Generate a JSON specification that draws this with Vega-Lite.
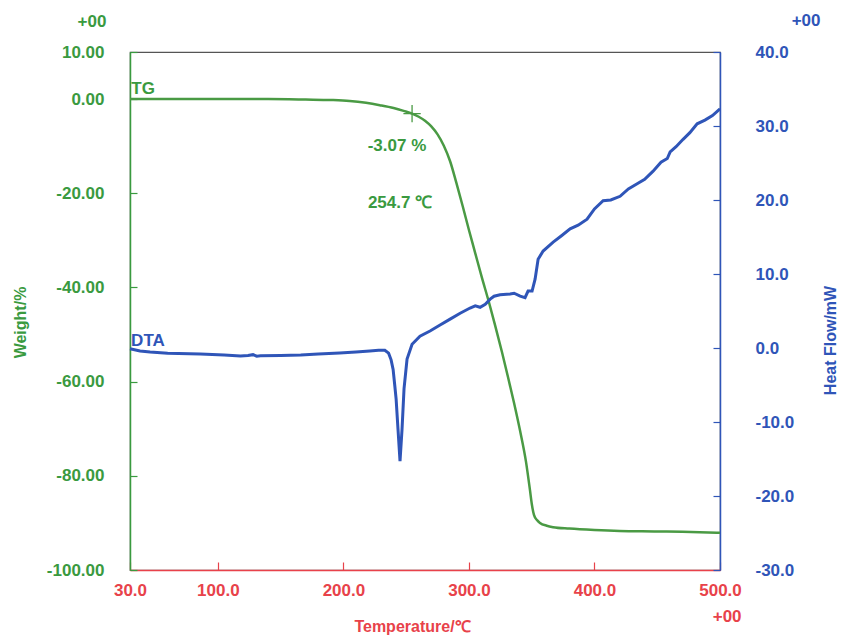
{
  "$schema": "https://vega.github.io/schema/vega-lite/v6.json",
  "autosize": "none",
  "width": 590,
  "height": 518,
  "padding": {"left": 130, "top": 52, "right": 128, "bottom": 66},
  "background": "white",
  "config": {
    "locale": {"number": {"decimal": ".", "thousands": ",", "grouping": [3], "currency": ["$", ""], "minus": "-"}},
    "view": {"stroke": "#555555", "strokeWidth": 1.2},
    "font": "Liberation Sans",
    "axis": {"grid": false, "labelFont": "Liberation Sans", "labelFontWeight": "bold", "titleFont": "Liberation Sans", "titleFontWeight": "bold", "labelOverlap": false, "labelFlush": false}
  },
  "datasets": {
    "tg": [
      {"T": 30, "W": 0}, {"T": 60, "W": 0}, {"T": 100, "W": 0}, {"T": 140, "W": 0},
      {"T": 170, "W": -0.1}, {"T": 190, "W": -0.2}, {"T": 205, "W": -0.4}, {"T": 218, "W": -0.8},
      {"T": 229, "W": -1.3}, {"T": 240, "W": -1.9}, {"T": 248, "W": -2.5}, {"T": 254.7, "W": -3.07},
      {"T": 260, "W": -3.75}, {"T": 265, "W": -4.6}, {"T": 270, "W": -5.8}, {"T": 275, "W": -7.5},
      {"T": 280, "W": -9.9}, {"T": 285, "W": -13.2}, {"T": 290, "W": -17.8}, {"T": 295, "W": -22.7},
      {"T": 300, "W": -27.8}, {"T": 305, "W": -32.7}, {"T": 310, "W": -37.6}, {"T": 316, "W": -43.2},
      {"T": 320.8, "W": -48.0}, {"T": 326.3, "W": -53.7}, {"T": 331.1, "W": -59.0}, {"T": 335.9, "W": -64.5},
      {"T": 340.7, "W": -70.4}, {"T": 345.5, "W": -77.1}, {"T": 348.6, "W": -83.0}, {"T": 350.2, "W": -86.2},
      {"T": 351.8, "W": -88.3}, {"T": 354.2, "W": -89.4}, {"T": 356.6, "W": -90.0}, {"T": 362, "W": -90.6},
      {"T": 367, "W": -90.9}, {"T": 380, "W": -91.2}, {"T": 400, "W": -91.5}, {"T": 420, "W": -91.7},
      {"T": 450, "W": -91.8}, {"T": 470, "W": -91.9}, {"T": 500, "W": -92.1}
    ],
    "dta": [
      {"T": 30, "H": -0.1}, {"T": 38, "H": -0.4}, {"T": 46, "H": -0.55}, {"T": 60, "H": -0.7},
      {"T": 86, "H": -0.8}, {"T": 105, "H": -0.95}, {"T": 118, "H": -1.08}, {"T": 124, "H": -1.0},
      {"T": 128, "H": -0.9}, {"T": 131, "H": -1.1}, {"T": 134, "H": -1.05}, {"T": 150, "H": -1.0},
      {"T": 166, "H": -0.95}, {"T": 180, "H": -0.8}, {"T": 197, "H": -0.68}, {"T": 210, "H": -0.55},
      {"T": 221, "H": -0.4}, {"T": 228, "H": -0.3}, {"T": 233, "H": -0.3}, {"T": 236, "H": -0.7},
      {"T": 238, "H": -1.6}, {"T": 239.6, "H": -2.9}, {"T": 241, "H": -5.2}, {"T": 242, "H": -6.9},
      {"T": 243.5, "H": -11}, {"T": 245.1, "H": -15.3}, {"T": 246.7, "H": -11}, {"T": 248.3, "H": -5.5},
      {"T": 250.7, "H": -1.5}, {"T": 254.7, "H": 0.5}, {"T": 261, "H": 1.6}, {"T": 269, "H": 2.3},
      {"T": 277, "H": 3.1}, {"T": 285, "H": 3.9}, {"T": 293, "H": 4.7}, {"T": 300.9, "H": 5.4},
      {"T": 305, "H": 5.7}, {"T": 308.9, "H": 5.5}, {"T": 313, "H": 5.9}, {"T": 316.9, "H": 6.6},
      {"T": 320, "H": 7.0}, {"T": 324.8, "H": 7.2}, {"T": 332.8, "H": 7.3}, {"T": 336, "H": 7.4},
      {"T": 340.8, "H": 7.0}, {"T": 344.7, "H": 6.8}, {"T": 347.1, "H": 7.7}, {"T": 350.3, "H": 7.7},
      {"T": 352.7, "H": 9.3}, {"T": 355.1, "H": 12.0}, {"T": 359.1, "H": 13.1}, {"T": 367.1, "H": 14.3},
      {"T": 374, "H": 15.2}, {"T": 380.6, "H": 16.1}, {"T": 387, "H": 16.6}, {"T": 394.1, "H": 17.4},
      {"T": 400, "H": 18.8}, {"T": 406.9, "H": 19.9}, {"T": 413, "H": 20.0}, {"T": 420.4, "H": 20.5},
      {"T": 427, "H": 21.5}, {"T": 434, "H": 22.2}, {"T": 440, "H": 22.8}, {"T": 446.7, "H": 23.9},
      {"T": 453, "H": 25.1}, {"T": 458, "H": 25.6}, {"T": 460.3, "H": 26.5}, {"T": 465, "H": 27.2},
      {"T": 470.6, "H": 28.2}, {"T": 476, "H": 29.1}, {"T": 481.8, "H": 30.3}, {"T": 488, "H": 30.8},
      {"T": 494, "H": 31.4}, {"T": 500, "H": 32.3}
    ],
    "tgMark": [{"T": 254.7, "W": -3.07}],
    "greenText": [
      {"T": 40.4, "W": 2.1, "label": "TG"},
      {"T": 242.7, "W": -10, "label": "-3.07 %"},
      {"T": 245.1, "W": -22.1, "label": "254.7 ℃"},
      {"T": -0.3, "W": 16.4, "label": "+00"}
    ],
    "redText": [{"T": 505.7, "W": -110, "label": "+00"}],
    "blueText": [
      {"T": 44.3, "H": 0.95, "label": "DTA"},
      {"T": 568.6, "H": 44.2, "label": "+00"}
    ]
  },
  "encoding": {
    "x": {
      "field": "T", "type": "quantitative",
      "scale": {"domain": [30, 500], "nice": false, "zero": false},
      "axis": {
        "values": [30, 100, 200, 300, 400, 500], "format": ".1f",
        "title": "Temperature/℃",
        "domainColor": "#e8424a", "domainWidth": 1.5,
        "tickColor": "#e8424a", "tickSize": -8, "tickWidth": 1.2,
        "labelColor": "#e8424a", "labelFontSize": 17, "labelPadding": 20,
        "titleColor": "#e8424a", "titleFontSize": 16, "titlePadding": 20, "titleX": 282
      }
    }
  },
  "layer": [
    {
      "encoding": {
        "y": {
          "field": "W", "type": "quantitative",
          "scale": {"domain": [-100, 10], "nice": false, "zero": false},
          "axis": {
            "orient": "left", "values": [-100, -80, -60, -40, -20, 0, 10], "format": ".2f",
            "title": "Weight/%",
            "domainColor": "#3a9a3f", "domainWidth": 1.5,
            "tickColor": "#3a9a3f", "tickSize": -7, "tickWidth": 1.2,
            "labelColor": "#3a9a3f", "labelFontSize": 17, "labelPadding": 33,
            "titleColor": "#3a9a3f", "titleFontSize": 16, "titlePadding": 18, "titleY": 270
          }
        }
      },
      "layer": [
        {"data": {"name": "tg"}, "mark": {"type": "line", "color": "#4a9a44", "strokeWidth": 2.5, "interpolate": "monotone"}},
        {"data": {"name": "tgMark"}, "mark": {"type": "point", "shape": "M-1,0H1M0,-1V1", "filled": false, "stroke": "#4a9a44", "strokeWidth": 1.3, "size": 300, "opacity": 1}},
        {"data": {"name": "greenText"}, "mark": {"type": "text", "color": "#3a9a3f", "fontSize": 17, "fontWeight": "bold", "baseline": "middle", "align": "center"}, "encoding": {"text": {"field": "label"}}},
        {"data": {"name": "redText"}, "mark": {"type": "text", "color": "#e8424a", "fontSize": 17, "fontWeight": "bold", "baseline": "middle", "align": "center"}, "encoding": {"text": {"field": "label"}}}
      ]
    },
    {
      "encoding": {
        "y": {
          "field": "H", "type": "quantitative",
          "scale": {"domain": [-30, 40], "nice": false, "zero": false},
          "axis": {
            "orient": "right", "values": [-30, -20, -10, 0, 10, 20, 30, 40], "format": ".1f",
            "title": "Heat Flow/mW", "titleAngle": 270,
            "domainColor": "#2f55b8", "domainWidth": 1.5,
            "tickColor": "#2f55b8", "tickSize": -7, "tickWidth": 1.2,
            "labelColor": "#2f55b8", "labelFontSize": 17, "labelPadding": 42,
            "titleColor": "#2f55b8", "titleFontSize": 16, "titlePadding": 45, "titleY": 288
          }
        }
      },
      "layer": [
        {"data": {"name": "dta"}, "mark": {"type": "line", "color": "#2f55b8", "strokeWidth": 3}},
        {"data": {"name": "blueText"}, "mark": {"type": "text", "color": "#2f55b8", "fontSize": 17, "fontWeight": "bold", "baseline": "middle", "align": "center"}, "encoding": {"text": {"field": "label"}}}
      ]
    }
  ],
  "resolve": {"scale": {"y": "independent"}}
}
